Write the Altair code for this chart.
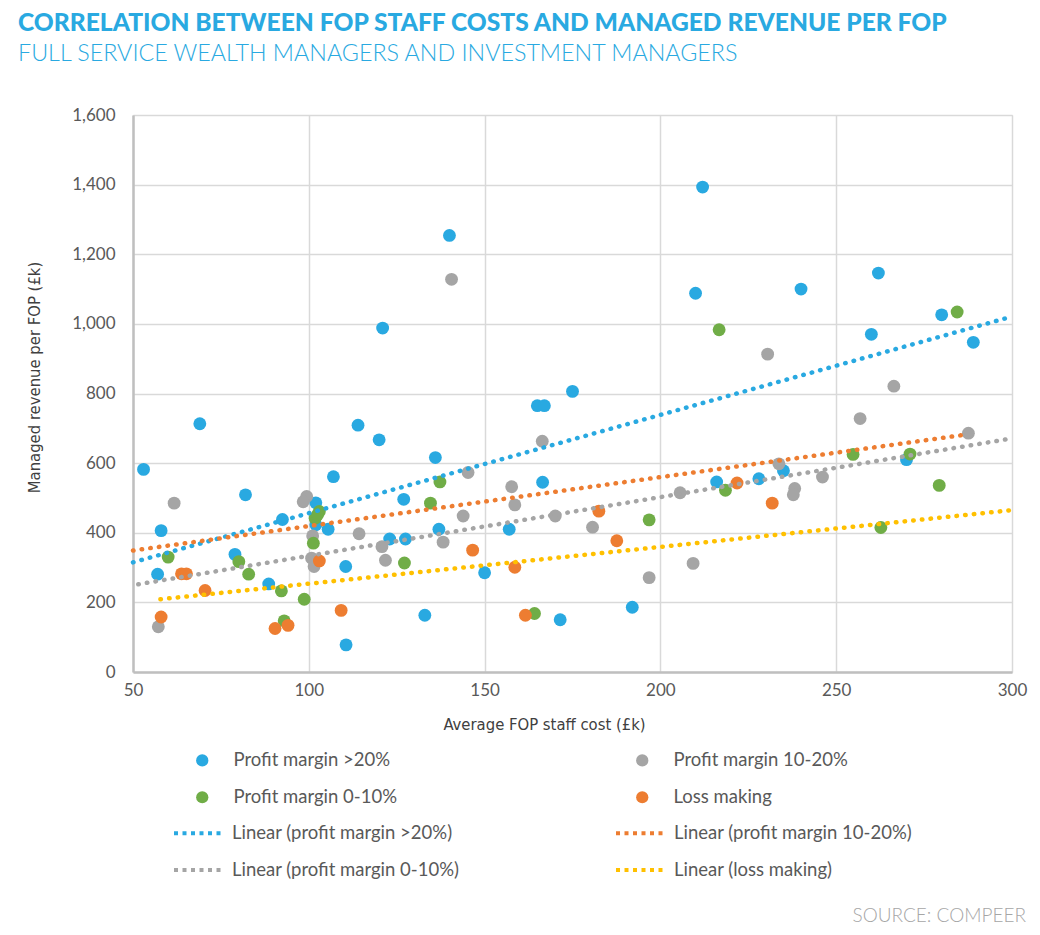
import altair as alt
import pandas as pd

# ---- data ----
categories = ["Profit margin >20%", "Profit margin 10-20%", "Profit margin 0-10%", "Loss making"]
cat_colors = ["#29A9E1", "#A5A5A5", "#70AD47", "#ED7D31"]
# legend fills column by column, so list entries in that order
legend_cat_order = ["Profit margin >20%", "Profit margin 0-10%", "Profit margin 10-20%", "Loss making"]
legend_cat_colors = ["#29A9E1", "#70AD47", "#A5A5A5", "#ED7D31"]

blue_x = [212, 140, 262, 210, 240, 121, 280, 260, 289, 175, 165, 167, 69, 114, 120, 136, 53, 107, 82, 102,
          102, 105.5, 92.5, 58, 127, 123, 127.5, 137, 157, 166.5, 216, 228, 235, 270, 79, 57, 88.6, 110.5,
          150, 133, 171.5, 192, 110.6]
blue_y = [1393, 1254, 1146, 1088, 1100, 988, 1026, 970, 947, 806, 765, 765, 713, 709, 667, 616, 582, 561, 509, 486,
          423, 410, 438, 406, 496, 382, 382, 410, 410, 545, 546, 555, 578, 610, 338, 281, 253, 303,
          285, 163, 150, 186, 78]

gray_x = [140.6, 230.5, 266.4, 256.8, 287.6, 166.4, 233.7, 246.1, 205.6, 238.2, 237.8, 145.3, 157.7, 158.6, 143.9,
          138.2, 170.1, 180.7, 196.8, 209.3, 61.7, 99.4, 98.4, 114.3, 101.1, 120.8, 121.8, 100.8, 101.5, 57.2]
gray_y = [1128, 913, 821, 728, 686, 663, 598, 560, 515, 527, 509, 573, 532, 480, 448,
          373, 448, 416, 271, 312, 485, 504, 489, 397, 391, 360, 321, 327, 303, 130]

green_x = [216.7, 284.4, 254.8, 271, 218.5, 279.3, 262.7, 137.3, 134.6, 196.8, 127.2, 164.2, 103, 101.8, 102.5,
           101.3, 60, 80.1, 82.9, 92.2, 98.7, 93]
green_y = [983, 1034, 625, 626, 522, 536, 415, 546, 485, 437, 313, 168, 461, 442, 452,
           370, 330, 317, 281, 233, 209, 147]

orange_x = [221.8, 231.8, 182.5, 187.6, 146.6, 158.6, 161.6, 103, 63.8, 65.2, 70.5, 109.2, 58, 90.4, 94.1]
orange_y = [543, 485, 462, 377, 350, 301, 163, 319, 282, 282, 234, 177, 158, 125, 134]

trend_names = ["Linear (profit margin >20%)", "Linear (profit margin 0-10%)",
               "Linear (profit margin 10-20%)", "Linear (loss making)"]
trend_colors = ["#29A9E1", "#A5A5A5", "#ED7D31", "#FFC000"]
trend_x_start = [50, 51.5, 50, 57.8]
trend_y_start = [315, 252, 349, 209]
trend_x_end = [300, 300, 286.2, 300]
trend_y_end = [1021, 671, 681, 465]

x_ticks = [50, 100, 150, 200, 250, 300]
y_ticks = [0, 200, 400, 600, 800, 1000, 1200, 1400, 1600]

title_text = "CORRELATION BETWEEN FOP STAFF COSTS AND MANAGED REVENUE PER FOP"
subtitle_text = "FULL SERVICE WEALTH MANAGERS AND INVESTMENT MANAGERS"
x_title = "Average FOP staff cost (£k)"
y_title = "Managed revenue per FOP (£k)"
source_text = ["SOURCE: COMPEER"]

# ---- tables ----
rows = []
for cat, xs, ys in zip(categories, [blue_x, gray_x, green_x, orange_x], [blue_y, gray_y, green_y, orange_y]):
    for xv, yv in zip(xs, ys):
        rows.append({"cost": xv, "rev": yv, "group": cat})
pts = pd.DataFrame(rows)

lrows = []
for n, x0, y0, x1, y1 in zip(trend_names, trend_x_start, trend_y_start, trend_x_end, trend_y_end):
    lrows.append({"cost": x0, "rev": y0, "trend": n})
    lrows.append({"cost": x1, "rev": y1, "trend": n})
lines = pd.DataFrame(lrows)

TEXT = "#595959"
BLUE_T = "#29A9E1"
COND = "DejaVu Sans Condensed"

x_enc = alt.X("cost:Q", scale=alt.Scale(domain=[50, 300], nice=False, zero=False),
              axis=alt.Axis(values=x_ticks, title=x_title, grid=True, ticks=False, labelFlush=False,
                            gridColor="#D9D9D9", gridWidth=1.5, domainColor="#BFBFBF", domainWidth=2.5,
                            labelFont="Lato", labelFontSize=17, labelColor=TEXT, labelPadding=10,
                            titleFont=COND, titleFontSize=16.5, titleFontWeight="normal",
                            titleColor="#404040", titleY=52, titleX=411, titleBaseline="middle"))
y_enc = alt.Y("rev:Q", scale=alt.Scale(domain=[0, 1600], nice=False),
              axis=alt.Axis(values=y_ticks, format=",d", title=y_title, grid=True, ticks=False,
                            gridColor="#D9D9D9", gridWidth=1.5, domainColor="#BFBFBF", domainWidth=2.5,
                            labelFont="Lato", labelFontSize=17, labelColor=TEXT, labelPadding=18,
                            titleFont=COND, titleFontSize=16.5, titleFontWeight="normal",
                            titleColor="#404040", titleX=-99, titleY=262, titleBaseline="middle"))

points = alt.Chart(pts).mark_circle(size=165, opacity=1).encode(
    x=x_enc, y=y_enc,
    color=alt.Color("group:N", scale=alt.Scale(domain=legend_cat_order, range=legend_cat_colors),
                    legend=alt.Legend(title=None, orient="none", legendX=60, legendY=636, columns=2,
                                      columnPadding=236, rowPadding=18, labelFont="Lato", labelFontSize=18.5,
                                      labelColor=TEXT, labelOffset=22, symbolSize=150, symbolType="circle",
                                      labelLimit=400)),
)

trend = alt.Chart(lines).mark_line(strokeWidth=4.5, strokeDash=[0.5, 8.2], strokeCap="round").encode(
    x="cost:Q", y="rev:Q",
    color=alt.Color("trend:N", scale=alt.Scale(domain=trend_names, range=trend_colors),
                    legend=alt.Legend(title=None, orient="none", legendX=39, legendY=691, columns=2,
                                      columnPadding=148, rowPadding=-17, labelFont="Lato", labelFontSize=18.5,
                                      labelColor=TEXT, labelOffset=6, symbolType="stroke", symbolSize=2500,
                                      symbolStrokeWidth=4, symbolDash=[4, 4.5], labelLimit=400)),
)

source = alt.Chart(pd.DataFrame({"t": source_text})).mark_text(
    align="right", baseline="middle", font="Lato", fontSize=19, fontWeight=300, color="#A6A6A6"
).encode(text="t:N", x=alt.value(893), y=alt.value(801))

chart = alt.layer(points, trend, source).resolve_scale(color="independent").properties(
    width=879, height=557,
    autosize=alt.AutoSizeParams(type="none"),
    padding={"left": 125, "top": 107, "right": 20, "bottom": 255},
    title=alt.TitleParams(text=title_text, subtitle=subtitle_text, anchor="start", frame="group",
                          dx=-115, offset=40, font="Lato", fontSize=24.6, fontWeight=900, color=BLUE_T,
                          subtitleFont="Lato", subtitleFontSize=23.3, subtitleFontWeight=300,
                          subtitleColor=BLUE_T, subtitlePadding=6),
).configure_view(stroke=None).configure(background="white")

chart.save("out.html", embed_options={"renderer": "svg", "actions": False})
